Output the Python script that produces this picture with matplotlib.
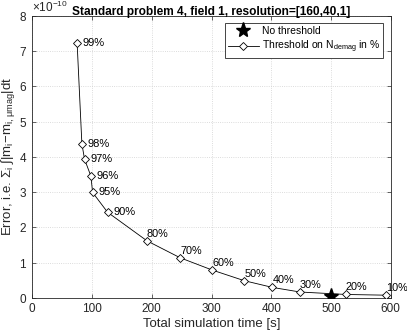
import matplotlib
matplotlib.use('Agg')
import matplotlib.pyplot as plt
from matplotlib.ticker import ScalarFormatter

# Werte
schwelle = ['99%', '98%', '97%', '96%', '95%', '90%', '80%', '70%', '60%', '50%', '40%', '30%', '20%', '10%']
zeit = [75, 83, 87.5, 98, 101, 126, 192, 247.5, 301.5, 355, 402, 448, 525, 592]
fehler = [7.24e-10, 4.37e-10, 3.93e-10, 3.46e-10, 2.99e-10, 2.43e-10, 1.62e-10, 1.14e-10,
          0.79e-10, 0.49e-10, 0.30e-10, 0.17e-10, 0.10e-10, 0.08e-10]
zeit_ohne = [500]
fehler_ohne = [0.06e-10]

plt.rcParams['font.family'] = ['Liberation Sans', 'DejaVu Sans']
plt.rcParams['mathtext.fontset'] = 'custom'
plt.rcParams['mathtext.rm'] = 'Liberation Sans'
plt.rcParams['mathtext.it'] = 'Liberation Sans:italic'
plt.rcParams['mathtext.sf'] = 'Liberation Sans'

achse_farbe = '#262626'

fig = plt.figure(figsize=(4.07, 3.34), dpi=100)
ax = fig.add_axes([32.3 / 407, 36 / 334, (390.7 - 32.3) / 407, (298 - 15.7) / 334])

ax.plot(zeit_ohne, fehler_ohne, linestyle='none', marker='*', color='black',
        markersize=11, label='No threshold', zorder=4)
ax.plot(zeit, fehler, color='black', linewidth=0.6, marker='D', markersize=4.5,
        markerfacecolor='white', markeredgecolor='black', markeredgewidth=0.6,
        label=r'Threshold on N$_\mathrm{demag}$ in %', zorder=3)

# Beschriftung der Punkte
for i, (x, y, s) in enumerate(zip(zeit, fehler, schwelle)):
    if i < 6:
        ax.annotate(s, (x, y), xytext=(4, 0), textcoords='offset points',
                    va='center', ha='left', fontsize=8, color='black')
    else:
        ax.annotate(s, (x, y), xytext=(0, 1.5), textcoords='offset points',
                    va='bottom', ha='left', fontsize=7.8, color='black')

ax.set_xlim(0, 600)
ax.set_ylim(0, 8e-10)
ax.set_xticks(range(0, 601, 100))

fmt = ScalarFormatter(useMathText=True)
fmt.set_powerlimits((0, 0))
ax.yaxis.set_major_formatter(fmt)
ax.yaxis.get_offset_text().set_fontsize(8.5)
ax.yaxis.get_offset_text().set_color(achse_farbe)

ax.grid(True, linestyle=':', color='#d0d0d0', linewidth=0.6)
ax.set_axisbelow(True)
ax.tick_params(direction='in', top=True, right=True, labelsize=8.5,
               colors=achse_farbe, length=3, width=0.5)
for sp in ax.spines.values():
    sp.set_color(achse_farbe)
    sp.set_linewidth(0.6)

ax.set_xlabel('Total simulation time [s]', fontsize=9.5, color=achse_farbe, labelpad=2)
ax.set_ylabel(r'Error, i.e. $\Sigma_\mathrm{i}\ \int|\mathrm{m_i\!-\!m_{i,\mu mag}}|\mathrm{dt}$',
              fontsize=9.5, color=achse_farbe, labelpad=1)
ax.set_title('Standard problem 4, field 1, resolution=[160,40,1]', fontsize=8.6,
             fontweight='bold', pad=0.8)

leg = ax.legend(loc='upper right', fontsize=7.5, fancybox=False, edgecolor=achse_farbe,
                framealpha=1, borderaxespad=0.7, borderpad=0.3, labelspacing=0.25,
                handlelength=3, handletextpad=0.3)
leg.get_frame().set_linewidth(0.6)

fig.savefig('out.png', dpi=100)
